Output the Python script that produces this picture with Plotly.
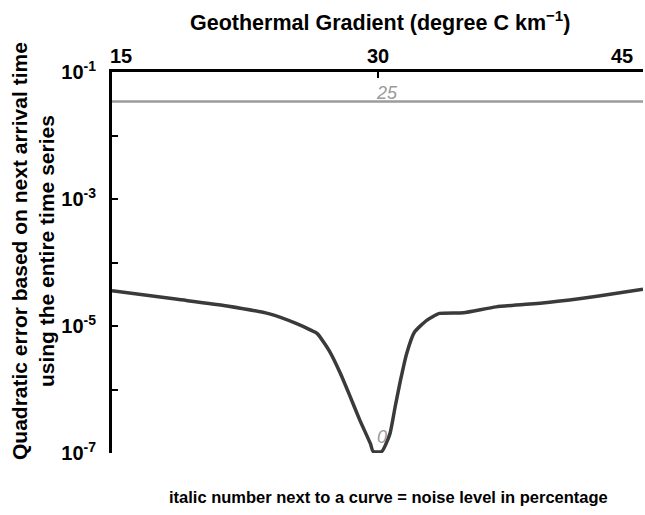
import plotly.graph_objects as go

# ---- data ----
gradient_0 = [15, 18.7, 21.5, 23.9, 25.4, 26.2, 26.6, 27.3, 27.9, 28.45, 29.0, 29.6,
              29.75, 30.25, 30.7, 31.0, 31.3, 31.65, 32.1, 32.8, 33.5, 34.85, 36.7,
              39.6, 42.4, 45]
error_0 = [3.6e-5, 2.63e-5, 2.07e-5, 1.55e-5, 1.1e-5, 8.7e-6, 7.6e-6, 3.95e-6, 1.8e-6,
           7.8e-7, 3.3e-7, 1.4e-7, 1.06e-7, 1.06e-7, 2.0e-7, 5.4e-7, 1.4e-6, 3.7e-6,
           8.1e-6, 1.24e-5, 1.58e-5, 1.62e-5, 2.0e-5, 2.35e-5, 2.95e-5, 3.8e-5]
gradient_25 = [15, 45]
error_25 = [0.0343, 0.0343]

x_tickvals = [15, 30, 45]
x_ticktext = ["15", "30", "45"]
y_tickvals = [1e-1, 1e-2, 1e-3, 1e-4, 1e-5, 1e-6, 1e-7]
y_ticktext = ["<b>10<sup>-1</sup></b>", "", "<b>10<sup>-3</sup></b>", "",
              "<b>10<sup>-5</sup></b>", "", "<b>10<sup>-7</sup></b>"]

FONT = "Liberation Sans, Arial, sans-serif"
W, H = 645, 515
L, R, T, B = 112, 643, 72, 453


def px(p):
    return (p - L) / (R - L)


def py(p):
    return (B - p) / (B - T)


fig = go.Figure()
fig.add_trace(go.Scatter(x=gradient_25, y=error_25, mode="lines",
                         line=dict(color="#9b9b9b", width=2.5), hoverinfo="skip"))
fig.add_trace(go.Scatter(x=gradient_0, y=error_0, mode="lines",
                         line=dict(color="#3a3a3a", width=3.5, shape="spline", smoothing=0.5),
                         hoverinfo="skip"))

annotations = []
# top tick labels
anchors = ["left", "center", "right"]
shifts = [-4, 0, -8]
for v, t, a, s in zip(x_tickvals, x_ticktext, anchors, shifts):
    annotations.append(dict(x=v, xref="x", y=py(56), yref="paper", text="<b>%s</b>" % t,
                            showarrow=False, xanchor=a, yanchor="middle", xshift=s,
                            font=dict(family=FONT, size=20, color="black")))
# axis titles
annotations.append(dict(x=px(380), xref="paper", y=py(21), yref="paper",
                        text="<b>Geothermal Gradient (degree C km<sup>\u22121</sup>)</b>",
                        showarrow=False, xanchor="center", yanchor="middle",
                        font=dict(family=FONT, size=21.5, color="black")))
annotations.append(dict(x=px(33), xref="paper", y=py(251), yref="paper",
                        text="<b>Quadratic error based on next arrival time<br>using the entire time series</b>",
                        showarrow=False, xanchor="center", yanchor="middle", textangle=-90,
                        font=dict(family=FONT, size=21, color="black")))
annotations.append(dict(x=px(388), xref="paper", y=py(497), yref="paper",
                        text="<b>italic number next to a curve = noise level in percentage</b>",
                        showarrow=False, xanchor="center", yanchor="middle",
                        font=dict(family=FONT, size=16.5, color="black")))
# noise labels
annotations.append(dict(x=30, xref="x", y=py(93), yref="paper", text="<i>25</i>",
                        showarrow=False, xanchor="center", yanchor="middle", xshift=9,
                        font=dict(family=FONT, size=18, color="#9b9b9b")))
annotations.append(dict(x=30, xref="x", y=py(437), yref="paper", text="<i>0</i>",
                        showarrow=False, xanchor="center", yanchor="middle", xshift=4,
                        font=dict(family=FONT, size=18, color="#9b9b9b")))

fig.update_layout(
    width=W, height=H,
    margin=dict(l=L, r=W - R, t=T, b=H - B, pad=0),
    paper_bgcolor="white", plot_bgcolor="white",
    showlegend=False,
    annotations=annotations,
    xaxis=dict(range=[15, 45], side="top", showline=True, linecolor="black", linewidth=3,
               ticks="inside", ticklen=6, tickwidth=2, tickcolor="black",
               tickvals=x_tickvals, showticklabels=False, showgrid=False, zeroline=False,
               automargin=False),
    yaxis=dict(type="log", range=[-7, -1], showline=True, linecolor="black", linewidth=3,
               ticks="inside", ticklen=6, tickwidth=2, tickcolor="black",
               tickvals=y_tickvals, ticktext=y_ticktext, ticklabelstandoff=9,
               tickfont=dict(family=FONT, size=20, color="black"),
               showgrid=False, zeroline=False, automargin=False),
)

fig.write_html("out.html", config={"displayModeBar": False},
               post_script="document.body.style.margin='0px';")
